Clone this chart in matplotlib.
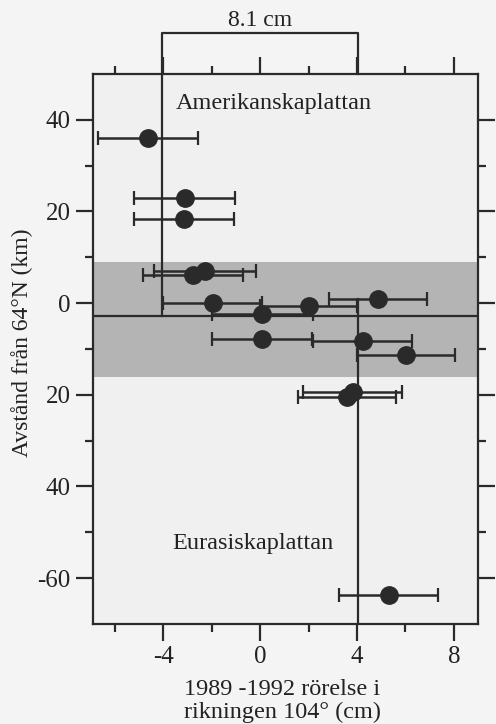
import matplotlib
matplotlib.use("Agg")
import matplotlib.pyplot as plt
from matplotlib.ticker import FixedLocator, FixedFormatter

plt.rcParams['font.family'] = ['Liberation Serif', 'DejaVu Serif']

# Data
x_motion = [-4.62, -3.12, -3.14, -2.77, -2.27, -1.96, 0.10, 2.00, 4.88, 0.07, 4.23, 6.03, 3.59, 3.82, 5.31]
y_dist = [36.0, 23.0, 18.4, 6.2, 7.0, 0.0, -2.4, -0.7, 0.9, -7.8, -8.2, -11.4, -20.4, -19.4, -63.7]
x_err = [2.06, 2.08, 2.08, 2.07, 2.10, 2.04, 2.10, 2.00, 2.02, 2.07, 2.06, 2.03, 2.04, 2.06, 2.04]

band_y = (-16.2, 8.9)
rift_y = -2.8
left_edge_x = -4.05
right_edge_x = 4.05
right_line_top = 0.9
bracket_label = "8.1 cm"

y_ticks = [40, 20, 0, -20, -40, -60]
y_ticklabels = ["40", "20", "0", "20", "40", "-60"]
y_minor = [30, 10, -10, -30, -50]
x_ticks = [-4, 0, 4, 8]
x_ticklabels = ["-4", "0", "4", "8"]
x_minor = [-6, -2, 2, 6]

W, H = 496, 724
fig = plt.figure(figsize=(W / 100, H / 100), dpi=100, facecolor='#f4f4f4')
ax = fig.add_axes([93 / W, 1 - 624 / H, (478 - 93) / W, (624 - 74) / H])
ax.set_facecolor('#f0f0f0')
ax.set_xlim(-6.9, 9.0)
ax.set_ylim(-70, 50)

ax.axhspan(band_y[0], band_y[1], color='#b4b4b4', lw=0, zorder=1)
ax.axhline(rift_y, color='#2a2a2a', lw=1.6, zorder=2)
ax.plot([left_edge_x, left_edge_x], [rift_y, 50], color='#2a2a2a', lw=1.6, zorder=2)
ax.plot([right_edge_x, right_edge_x], [-70, right_line_top], color='#2a2a2a', lw=1.6, zorder=2)

# bracket above the plot
ax.plot([left_edge_x, left_edge_x, right_edge_x, right_edge_x], [50, 58.9, 58.9, 50],
        color='#2a2a2a', lw=1.6, clip_on=False, zorder=2)
ax.text((left_edge_x + right_edge_x) / 2, 59.4, bracket_label, ha='center', va='bottom',
        fontsize=17, color='#222222', clip_on=False)

ax.errorbar(x_motion, y_dist, xerr=x_err, fmt='o', color='#2a2a2a', ecolor='#2a2a2a',
            ms=12.5, elinewidth=1.8, capsize=5, capthick=1.6, zorder=3)

ax.text(0.58, 43.6, "Amerikanskaplattan", ha='center', va='center', fontsize=17.5, color='#222222')
ax.text(-0.3, -52.5, "Eurasiskaplattan", ha='center', va='center', fontsize=17.5, color='#222222')

ax.yaxis.set_major_locator(FixedLocator(y_ticks))
ax.yaxis.set_major_formatter(FixedFormatter(y_ticklabels))
ax.yaxis.set_minor_locator(FixedLocator(y_minor))
ax.xaxis.set_major_locator(FixedLocator(x_ticks))
ax.xaxis.set_major_formatter(FixedFormatter(x_ticklabels))
ax.xaxis.set_minor_locator(FixedLocator(x_minor))

ax.tick_params(which='both', direction='out', top=True, right=True, color='#2a2a2a',
               labelsize=18, labelcolor='#222222')
ax.tick_params(which='major', length=12, width=1.6, pad=4)
ax.tick_params(which='minor', length=6, width=1.6)
for s in ax.spines.values():
    s.set_linewidth(1.6)
    s.set_color('#2a2a2a')

fig.text(22 / W, 1 - 343 / H, "Avstånd från 64°N (km)", rotation=90, ha='center', va='center',
         fontsize=17, color='#222222')
fig.text(184 / W, 1 - 701 / H, "1989 -1992 rörelse i\nrikningen 104° (cm)", ha='left', va='center',
         fontsize=17.5, color='#222222', linespacing=1.1)

fig.savefig('out.png', dpi=100, facecolor=fig.get_facecolor())
